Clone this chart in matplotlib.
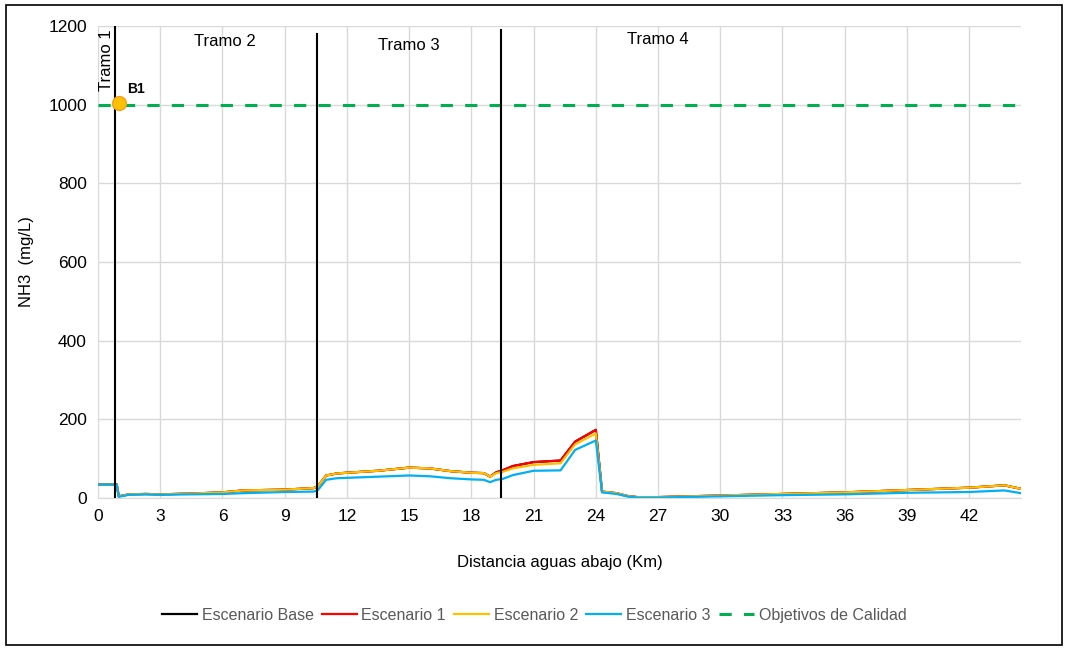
import matplotlib

matplotlib.use("Agg")
import matplotlib.pyplot as plt
from matplotlib.patches import Rectangle

plt.rcParams["font.family"] = ["Liberation Sans Narrow", "Liberation Sans", "DejaVu Sans"]

# distance downstream (km) and NH3 (mg/L) per scenario
dist = [0.0, 0.82, 0.9, 1.0, 1.5, 2.3, 3.0, 4.5, 6.0, 7.0, 9.0, 10.4, 10.6,
        11.0, 11.5, 12.0, 13.5, 15.0, 16.0, 17.0, 18.0, 18.6, 18.9, 19.2, 19.5,
        20.0, 21.0, 22.3, 23.0, 24.0, 24.3, 25.0, 25.5, 26.0, 27.0, 30.0, 33.0,
        36.0, 39.0, 42.0, 43.7, 44.5]
esc1 = [34, 34, 34, 4, 9, 10, 9, 11, 14, 19, 21, 25, 30,
        57, 62, 64, 69, 77, 75, 68, 64, 63, 54, 65, 70,
        81, 91, 95, 143, 173, 16, 12, 5, 2, 2, 6, 10,
        14, 20, 26, 32, 23]
esc2 = [34, 34, 34, 4, 9, 10, 9, 11, 14, 19, 21, 25, 30,
        57, 62, 64, 69, 77, 75, 68, 64, 63, 54, 63, 66,
        75, 84, 88, 136, 164, 16, 12, 5, 2, 2, 6, 10,
        14, 20, 26, 32, 23]
esc3 = [34, 34, 34, 3, 8, 9, 8, 9, 10, 12, 15, 16, 20,
        46, 50, 51, 54, 57, 55, 50, 47, 46, 40, 46, 48,
        58, 69, 70, 122, 146, 14, 10, 4, 1, 1, 4, 7,
        9, 13, 15, 19, 12]
esc_base = esc1

objetivo = 1000
tramo_breaks = [0.82, 10.58, 19.42]
tramo_tops = [1200, 1180, 1190]
tramo_labels = ["Tramo 2", "Tramo 3", "Tramo 4"]
tramo_label_x = [6.1, 15.0, 27.0]
tramo_label_y = [1160, 1150, 1165]
b1_x, b1_y = 1.0, 1005

fig = plt.figure(figsize=(10.68, 6.5), dpi=100)
ax = fig.add_axes([0.0918, 0.234, 0.8642, 0.726])

ax.plot(dist, esc_base, color="black", linewidth=1.6, label="Escenario Base")
ax.plot(dist, esc1, color="#ff0000", linewidth=1.6, label="Escenario 1")
ax.plot(dist, esc2, color="#ffc000", linewidth=1.6, label="Escenario 2")
ax.plot(dist, esc3, color="#00b0f0", linewidth=1.6, label="Escenario 3")
ax.axhline(objetivo, color="#00b050", linewidth=2.2, linestyle=(0, (4, 4)),
           label="Objetivos de Calidad")

for xb, top in zip(tramo_breaks, tramo_tops):
    ax.plot([xb, xb], [0, top], color="black", linewidth=1.5, zorder=5)

ax.text(0.4, 1112, "Tramo 1", rotation=90, ha="center", va="center", fontsize=12)
for lx, ly, lab in zip(tramo_label_x, tramo_label_y, tramo_labels):
    ax.text(lx, ly, lab, ha="center", va="center", fontsize=12)

ax.plot([b1_x], [b1_y], marker="o", markersize=10, color="#ffc000",
        markeredgecolor="#f4a020", zorder=6, clip_on=False)
ax.text(b1_x + 0.4, 1030, "B1", fontsize=10, fontweight="bold")

ax.set_xlim(0, 44.5)
ax.set_ylim(0, 1200)
ax.set_xticks(range(0, 43, 3))
ax.set_yticks(range(0, 1201, 200))
ax.tick_params(length=0, labelsize=12.5, pad=8)
ax.grid(True, color="#d9d9d9", linewidth=1.0)
ax.set_axisbelow(True)
for side in ["top", "right", "left"]:
    ax.spines[side].set_visible(False)
ax.spines["bottom"].set_color("#d9d9d9")

ax.set_xlabel("Distancia aguas abajo (Km)", fontsize=12, labelpad=22)
ax.set_ylabel("NH3  (mg/L)", fontsize=12, labelpad=10)

leg = fig.legend(loc="center", bbox_to_anchor=(0.5, 0.053), ncol=5, frameon=False,
                 fontsize=11.5, handlelength=2.2, handletextpad=0.3, columnspacing=0.5)
for t in leg.get_texts():
    t.set_color("#595959")

fig.patches.append(Rectangle((0.006, 0.008), 0.988, 0.984, transform=fig.transFigure,
                             fill=False, edgecolor="black", linewidth=1.2))

fig.savefig("out.png", dpi=100)
